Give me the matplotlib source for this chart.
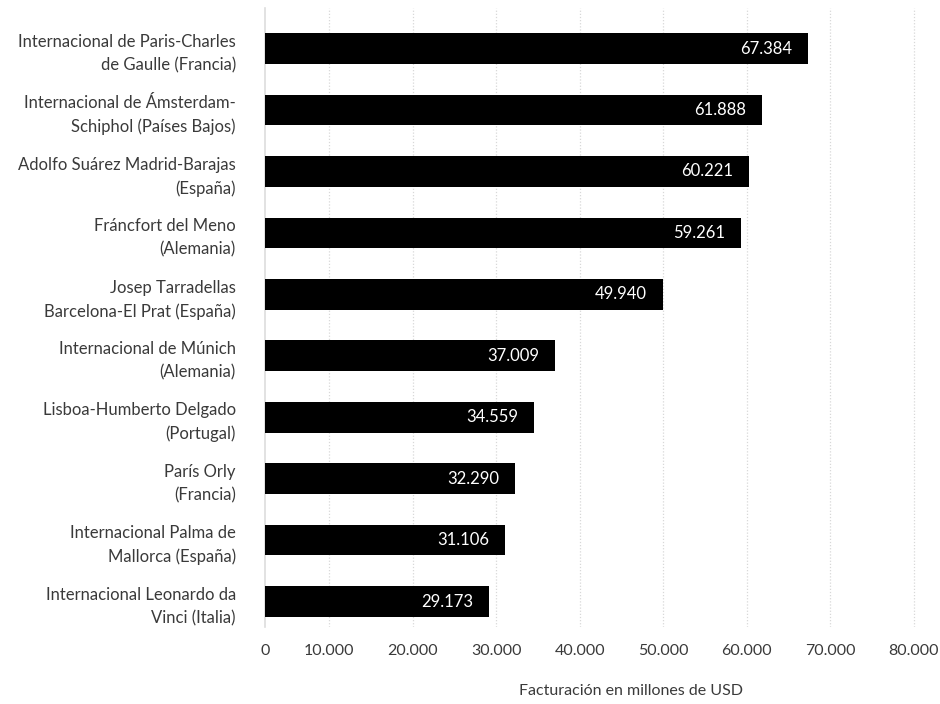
import numpy as np
import matplotlib.pyplot as plt

plt.rcParams['font.family'] = ['Lato', 'DejaVu Sans']

airports = [
    "Internacional de Paris-Charles\nde Gaulle (Francia)",
    "Internacional de Ámsterdam-\nSchiphol (Países Bajos)",
    "Adolfo Suárez Madrid-Barajas\n(España)",
    "Fráncfort del Meno\n(Alemania)",
    "Josep Tarradellas\nBarcelona-El Prat (España)",
    "Internacional de Múnich\n(Alemania)",
    "Lisboa-Humberto Delgado\n(Portugal)",
    "París Orly\n(Francia)",
    "Internacional Palma de\nMallorca (España)",
    "Internacional Leonardo da\nVinci (Italia)",
]
revenue = [67384, 61888, 60221, 59261, 49940, 37009, 34559, 32290, 31106, 29173]
xticks = [0, 10000, 20000, 30000, 40000, 50000, 60000, 70000, 80000]
xlabel = "Facturación en millones de USD"


def fmt_es(v):
    return "{:,.0f}".format(v).replace(",", ".")


def main():
    fig = plt.figure(figsize=(9.4, 7.04), dpi=100, facecolor='w')
    ax = fig.add_axes([265/940, 1-627/704, (922-265)/940, (627-8)/704])

    # visible part of the axis starts a bit after zero, as in the original
    xmin, xmax = 2300, 81000

    y = np.arange(len(airports))
    ax.barh(y, revenue, height=0.5, color='black', zorder=3)

    for yi, v in zip(y, revenue):
        ax.text(v - 1900, yi, fmt_es(v), color='white', ha='right',
                va='center', fontsize=12, zorder=4)

    ax.set_xlim(xmin, xmax)
    ax.set_ylim(len(airports) - 1 + 0.415, -0.66)

    tick_pos = [xmin] + xticks[1:]
    ax.set_xticks(tick_pos)
    ax.set_xticklabels([fmt_es(t) for t in xticks])
    ax.set_yticks(y)
    ax.set_yticklabels(airports, fontsize=12, color='#3a3a3a',
                       linespacing=1.55)

    for t in xticks[1:]:
        ax.axvline(t, color='#d8d8d8', linestyle=(0, (1, 1.5)),
                   linewidth=0.9, zorder=1)

    ax.tick_params(axis='x', length=0, pad=12.5, labelsize=11.5,
                   labelcolor='#3a3a3a')
    ax.tick_params(axis='y', length=0, pad=21)

    for s in ['top', 'right', 'bottom']:
        ax.spines[s].set_visible(False)
    ax.spines['left'].set_color('#dddddd')
    ax.spines['left'].set_linewidth(1.2)

    fig.text(631/940, 1-691/704, xlabel, ha='center', va='center',
             fontsize=11.5, color='#3a3a3a')

    plt.savefig("out.png", dpi=100, facecolor='w')
    plt.close('all')


if __name__ == '__main__':
    main()
